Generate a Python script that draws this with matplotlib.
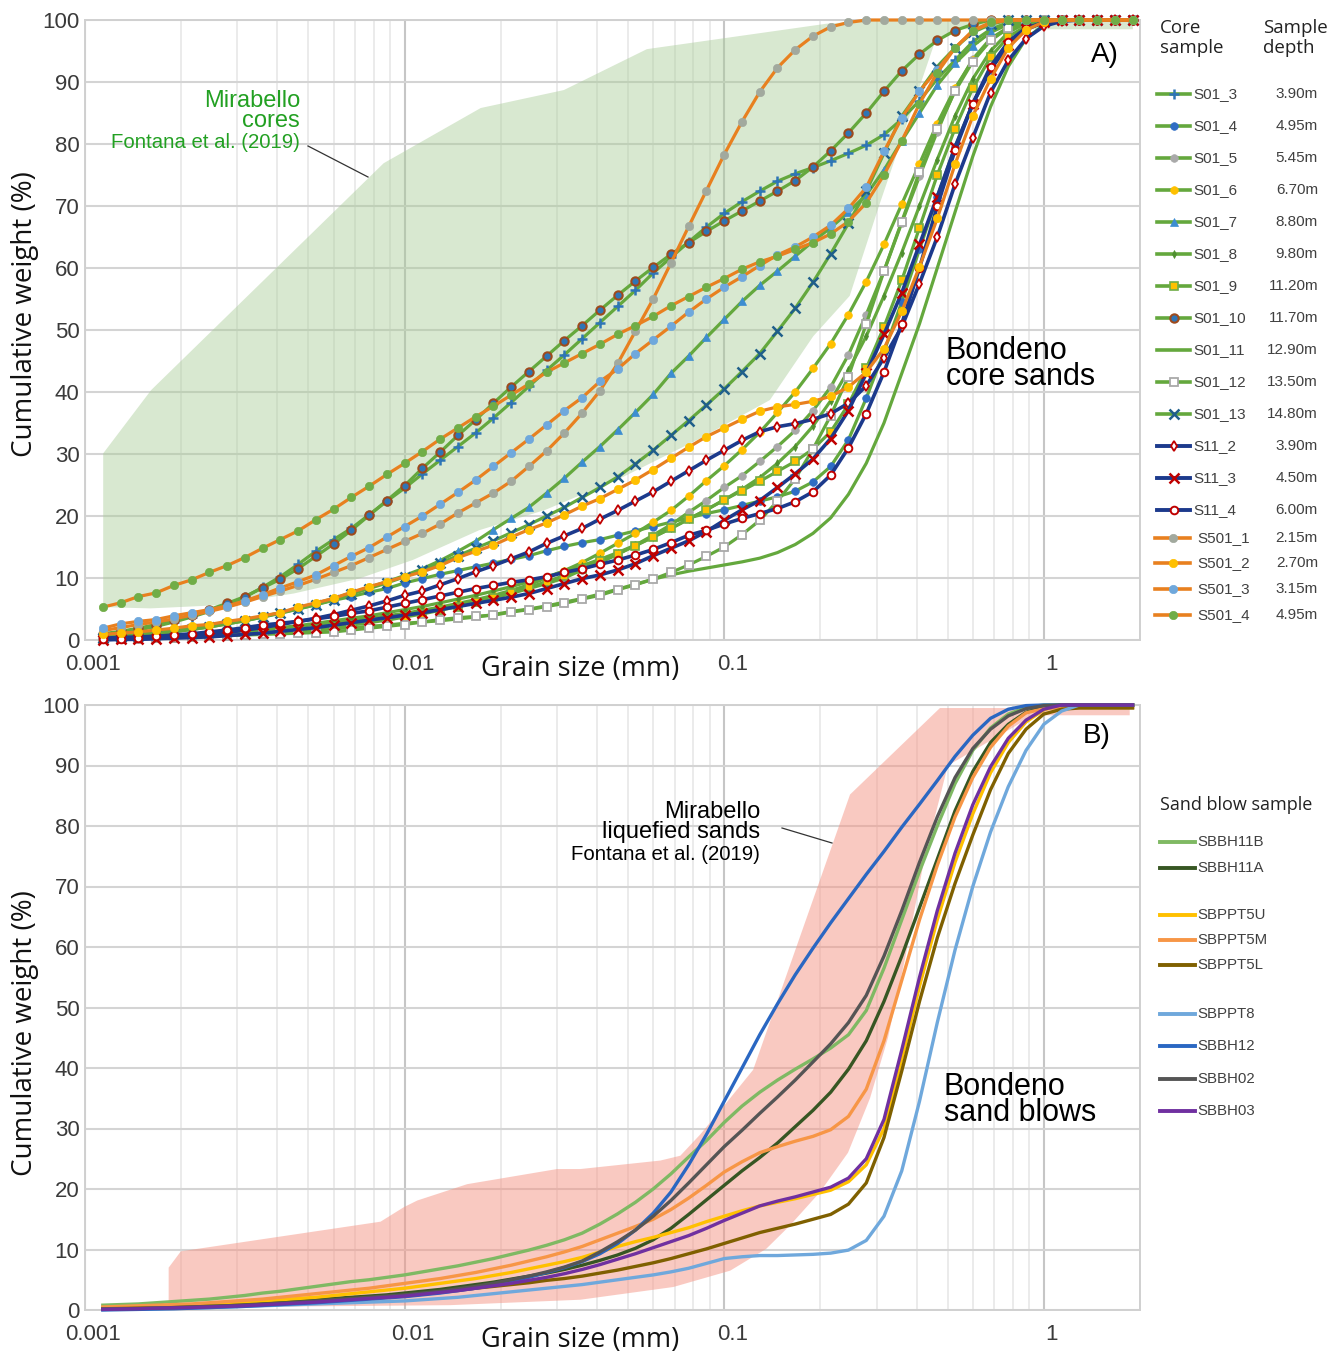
import matplotlib
matplotlib.use("Agg")
import matplotlib.pyplot as plt
from matplotlib.lines import Line2D
from matplotlib.ticker import LogLocator, NullFormatter
import matplotlib.transforms as mtrans

plt.rcParams['font.family'] = ['Liberation Sans', 'DejaVu Sans']

W, H = 1341, 1354

# grain size classes (mm), shared by all curves
grain_mm = [
    0.001137, 0.001292, 0.001468, 0.001668, 0.001896, 0.002154, 0.002448, 0.002783, 0.003162,
    0.003594, 0.004084, 0.004642, 0.005275, 0.005995, 0.006813, 0.007743, 0.008799, 0.01,
    0.01137, 0.01292, 0.01468, 0.01668, 0.01896, 0.02154, 0.02448, 0.02783, 0.03162,
    0.03594, 0.04084, 0.04642, 0.05275, 0.05995, 0.06813, 0.07743, 0.08799, 0.1,
    0.1137, 0.1292, 0.1468, 0.1668, 0.1896, 0.2154, 0.2448, 0.2783, 0.3162,
    0.3594, 0.4084, 0.4642, 0.5275, 0.5995, 0.6813, 0.7743, 0.8799, 1.0,
    1.137, 1.292, 1.468, 1.668, 1.896]

# ---- A) Bondeno core sands, cumulative weight (%)
s01_3 = [0.8, 1.2, 1.6, 2.2, 2.9, 3.7, 4.6, 5.7, 6.9, 8.5,
         10.2, 12.2, 14.3, 16.2, 18.0, 20.2, 22.4, 24.5, 26.8, 29.0,
         31.2, 33.4, 35.8, 38.3, 40.9, 43.5, 46.0, 48.6, 51.2, 53.8,
         56.4, 59.2, 61.7, 64.2, 66.6, 68.8, 70.7, 72.4, 74.0, 75.2,
         76.2, 77.3, 78.5, 79.8, 81.5, 84.0, 87.0, 90.5, 93.5, 96.5,
         98.5, 99.6, 100, 100, 100, 100, 100, 100, 100]
s01_4 = [0.5, 0.8, 1.0, 1.3, 1.6, 2.0, 2.3, 2.7, 3.2, 3.8,
         4.4, 5.0, 5.7, 6.4, 7.0, 7.7, 8.3, 9.2, 9.9, 10.6,
         11.2, 11.8, 12.4, 13.0, 13.6, 14.4, 15.1, 15.7, 16.2, 16.9,
         17.6, 18.3, 19.0, 19.7, 20.4, 21.0, 21.7, 22.4, 23.1, 24.0,
         25.5, 28.0, 32.3, 39.0, 46.5, 54.5, 63.0, 71.5, 79.5, 86.5,
         92.0, 96.0, 98.5, 99.6, 100, 100, 100, 100, 100]
s01_5 = [0.2, 0.3, 0.4, 0.5, 0.5, 0.6, 0.7, 0.8, 1.0, 1.1,
         1.3, 1.6, 1.9, 2.4, 2.9, 3.2, 3.7, 4.1, 4.5, 4.9,
         5.5, 6.2, 6.8, 7.5, 8.3, 9.1, 10.0, 11.3, 12.5, 13.8,
         15.3, 16.9, 18.6, 20.6, 22.5, 24.6, 26.5, 28.8, 31.2, 33.8,
         37.0, 40.8, 46.0, 52.5, 59.5, 67.3, 74.8, 82.0, 88.7, 93.7,
         97.0, 98.8, 99.6, 100, 100, 100, 100, 100, 100]
s01_6 = [0.3, 0.4, 0.5, 0.6, 0.7, 0.8, 1.0, 1.2, 1.4, 1.6,
         1.9, 2.2, 2.5, 2.8, 3.1, 3.5, 3.9, 4.3, 4.8, 5.3,
         5.9, 6.5, 7.2, 8.0, 8.9, 10.0, 11.2, 12.5, 14.0, 15.6,
         17.2, 19.0, 20.9, 23.2, 25.7, 28.1, 30.7, 33.5, 36.7, 40.0,
         43.8, 47.8, 52.5, 57.8, 63.8, 70.3, 76.8, 83.3, 89.0, 93.5,
         96.8, 98.8, 99.7, 100, 100, 100, 100, 100, 100]
s01_7 = [0.5, 0.7, 0.9, 1.1, 1.4, 1.7, 2.1, 2.6, 3.1, 3.7,
         4.4, 5.1, 5.9, 6.7, 7.6, 8.5, 9.4, 10.4, 11.5, 12.8,
         14.3, 15.9, 17.8, 19.6, 21.4, 23.7, 26.1, 28.7, 31.2, 33.9,
         36.7, 39.6, 43.0, 45.8, 48.8, 51.7, 54.6, 57.2, 59.5, 61.9,
         64.3, 66.5, 69.0, 71.8, 75.8, 80.5, 85.0, 89.5, 93.0, 95.8,
         98.0, 99.3, 100, 100, 100, 100, 100, 100, 100]
s01_8 = [0.3, 0.4, 0.5, 0.6, 0.7, 0.8, 1.0, 1.2, 1.4, 1.7,
         2.0, 2.3, 2.7, 3.1, 3.5, 3.9, 4.4, 4.9, 5.4, 6.0,
         6.6, 7.2, 7.9, 8.6, 9.4, 10.2, 11.1, 12.0, 13.0, 14.1,
         15.3, 16.6, 18.0, 19.5, 21.0, 22.6, 24.3, 26.2, 28.5, 31.2,
         34.5, 38.6, 43.5, 49.0, 55.5, 62.5, 70.0, 77.5, 84.5, 90.5,
         95.0, 98.0, 99.5, 100, 100, 100, 100, 100, 100]
s01_9 = [0.2, 0.2, 0.3, 0.3, 0.4, 0.5, 0.6, 0.8, 0.9, 1.1,
         1.3, 1.5, 1.8, 2.1, 2.4, 2.8, 3.2, 3.7, 4.2, 4.8,
         5.4, 6.1, 6.8, 7.6, 8.5, 9.4, 10.4, 11.5, 12.7, 13.9,
         15.2, 16.6, 18.0, 19.5, 21.0, 22.6, 24.1, 25.6, 27.2, 28.8,
         30.8, 33.6, 38.0, 43.8, 50.5, 58.0, 66.5, 75.0, 82.5, 89.0,
         94.0, 97.3, 99.0, 99.8, 100, 100, 100, 100, 100]
s01_10 = [1.0, 1.4, 1.9, 2.5, 3.2, 4.0, 4.9, 5.9, 7.0, 8.4,
          9.8, 11.5, 13.5, 15.5, 17.7, 20.1, 22.5, 24.9, 27.7, 30.3,
          33.0, 35.5, 38.2, 40.8, 43.3, 45.8, 48.3, 50.7, 53.2, 55.6,
          57.9, 60.1, 62.2, 64.1, 65.9, 67.6, 69.2, 70.8, 72.4, 74.1,
          76.3, 78.9, 81.8, 85.0, 88.5, 91.8, 94.5, 96.7, 98.3, 99.3,
          100, 100, 100, 100, 100, 100, 100, 100, 100]
s01_11 = [0.2, 0.3, 0.4, 0.5, 0.6, 0.7, 0.8, 0.9, 1.0, 1.2,
          1.3, 1.5, 1.6, 1.8, 2.0, 2.2, 2.4, 2.7, 2.9, 3.1,
          3.4, 3.7, 4.1, 4.6, 5.0, 5.5, 6.1, 6.7, 7.4, 8.2,
          9.0, 9.8, 10.5, 11.1, 11.6, 12.1, 12.6, 13.2, 14.1, 15.4,
          17.2, 19.7, 23.5, 28.5, 35.0, 43.0, 51.0, 60.0, 69.0, 78.0,
          86.0, 92.5, 97.0, 99.2, 100, 100, 100, 100, 100]
s01_12 = [0.1, 0.2, 0.2, 0.3, 0.4, 0.5, 0.6, 0.7, 0.8, 0.9,
          1.0, 1.1, 1.2, 1.3, 1.6, 1.9, 2.2, 2.5, 2.9, 3.3,
          3.6, 3.8, 4.0, 4.5, 4.9, 5.4, 5.9, 6.6, 7.2, 8.1,
          8.9, 9.8, 10.9, 12.1, 13.5, 15.0, 17.0, 19.3, 22.4, 26.0,
          30.8, 36.2, 42.5, 51.0, 59.5, 67.5, 75.5, 82.5, 88.5, 93.3,
          96.7, 98.7, 99.6, 100, 100, 100, 100, 100, 100]
s01_13 = [0.3, 0.5, 0.7, 1.0, 1.3, 1.7, 2.1, 2.6, 3.1, 3.7,
          4.3, 5.0, 5.7, 6.5, 7.4, 8.3, 9.2, 10.2, 11.3, 12.4,
          13.6, 14.8, 16.0, 17.3, 18.6, 20.0, 21.4, 23.0, 24.6, 26.3,
          28.4, 30.6, 33.0, 35.4, 37.9, 40.5, 43.3, 46.2, 49.8, 53.5,
          57.7, 62.3, 67.2, 72.4, 78.5, 84.5, 88.5, 92.5, 95.5, 98.0,
          99.3, 100, 100, 100, 100, 100, 100, 100, 100]
s11_2 = [0.3, 0.4, 0.5, 0.6, 0.7, 0.8, 1.0, 1.2, 1.6, 2.0,
         2.5, 3.0, 3.5, 4.1, 4.8, 5.5, 6.3, 7.2, 7.9, 8.9,
         9.9, 11.0, 12.0, 13.1, 14.2, 15.6, 16.8, 18.0, 19.5, 20.9,
         22.4, 23.9, 25.6, 27.3, 29.0, 30.6, 32.2, 33.6, 34.4, 34.9,
         35.6, 36.5, 38.2, 41.0, 45.5, 50.5, 57.5, 65.0, 73.5, 81.0,
         88.3, 93.5, 97.0, 99.0, 99.8, 100, 100, 100, 100]
s11_3 = [0.0, 0.1, 0.1, 0.2, 0.3, 0.4, 0.5, 0.7, 0.9, 1.1,
         1.4, 1.7, 2.0, 2.4, 2.8, 3.2, 3.6, 4.0, 4.4, 4.9,
         5.4, 5.9, 6.4, 6.9, 7.5, 8.3, 9.1, 9.9, 10.5, 11.3,
         12.3, 13.6, 14.8, 16.0, 17.5, 19.3, 21.0, 22.5, 24.6, 26.8,
         29.2, 32.5, 37.0, 43.0, 49.3, 56.0, 63.8, 71.5, 79.5, 86.5,
         92.0, 96.0, 98.5, 99.6, 100, 100, 100, 100, 100]
s11_4 = [0.1, 0.2, 0.4, 0.6, 0.8, 1.0, 1.3, 1.6, 2.0, 2.4,
         2.7, 3.0, 3.4, 3.8, 4.3, 4.7, 5.3, 5.9, 6.5, 7.1,
         7.7, 8.3, 8.8, 9.3, 9.7, 10.2, 10.9, 11.5, 12.2, 12.9,
         13.7, 14.6, 15.7, 16.9, 17.7, 18.7, 19.6, 20.4, 21.2, 22.3,
         23.9, 26.6, 31.0, 36.5, 43.2, 51.0, 60.0, 70.0, 79.0, 86.5,
         92.5, 96.5, 98.7, 99.6, 100, 100, 100, 100, 100]
s501_1 = [1.5, 2.0, 2.5, 2.9, 3.4, 4.0, 4.6, 5.3, 6.1, 7.0,
          7.9, 8.8, 9.8, 10.9, 12.0, 13.3, 14.6, 15.9, 17.2, 18.7,
          20.5, 22.1, 23.7, 25.6, 28.0, 30.5, 33.4, 36.6, 40.2, 44.6,
          49.8, 55.0, 60.8, 66.7, 72.5, 78.3, 83.6, 88.4, 92.3, 95.2,
          97.4, 98.9, 99.6, 100, 100, 100, 100, 100, 100, 100,
          100, 100, 100, 100, 100, 100, 100, 100, 100]
s501_2 = [0.9, 1.1, 1.3, 1.6, 1.9, 2.3, 2.5, 3.0, 3.4, 3.9,
          4.4, 5.3, 6.0, 6.7, 7.7, 8.6, 9.4, 10.2, 11.0, 12.0,
          13.3, 14.3, 15.3, 16.6, 17.8, 18.9, 20.2, 21.6, 22.8, 24.3,
          25.8, 27.5, 29.3, 31.1, 32.8, 34.2, 35.6, 36.9, 37.6, 38.0,
          38.5, 39.3, 40.8, 43.2, 47.0, 53.0, 60.2, 68.0, 76.7, 84.5,
          90.5, 95.5, 98.4, 99.7, 100, 100, 100, 100, 100]
s501_3 = [1.9, 2.6, 3.0, 3.3, 3.9, 4.4, 4.9, 5.5, 6.3, 7.3,
          8.4, 9.4, 10.5, 12.0, 13.5, 14.9, 16.6, 18.3, 20.0, 21.9,
          23.8, 25.8, 28.0, 30.2, 32.4, 34.7, 37.0, 39.1, 41.7, 43.7,
          46.2, 48.4, 50.6, 52.9, 55.0, 56.9, 58.6, 60.4, 62.1, 63.4,
          65.0, 66.9, 69.6, 73.0, 78.8, 84.2, 88.5, 92.0, 95.5, 98.2,
          99.5, 100, 100, 100, 100, 100, 100, 100, 100]
s501_4 = [5.3, 6.0, 7.0, 7.6, 8.8, 9.7, 10.9, 12.0, 13.3, 14.8,
          16.2, 17.6, 19.4, 21.1, 23.0, 24.8, 26.7, 28.5, 30.4, 32.4,
          34.2, 36.0, 37.7, 39.5, 41.3, 43.2, 44.7, 46.2, 47.7, 49.3,
          50.7, 52.2, 53.9, 55.4, 56.9, 58.3, 59.8, 61.0, 61.9, 63.0,
          64.1, 65.5, 67.5, 70.5, 75.0, 80.5, 86.5, 91.5, 95.5, 98.3,
          99.6, 100, 100, 100, 100, 100, 100, 100, 100]

core_names = ['S01_3', 'S01_4', 'S01_5', 'S01_6', 'S01_7', 'S01_8', 'S01_9', 'S01_10',
              'S01_11', 'S01_12', 'S01_13', 'S11_2', 'S11_3', 'S11_4',
              'S501_1', 'S501_2', 'S501_3', 'S501_4']
core_depths = ['3.90m', '4.95m', '5.45m', '6.70m', '8.80m', '9.80m', '11.20m', '11.70m',
               '12.90m', '13.50m', '14.80m', '3.90m', '4.50m', '6.00m',
               '2.15m', '2.70m', '3.15m', '4.95m']
core_values = [s01_3, s01_4, s01_5, s01_6, s01_7, s01_8, s01_9, s01_10,
               s01_11, s01_12, s01_13, s11_2, s11_3, s11_4,
               s501_1, s501_2, s501_3, s501_4]

# Mirabello cores envelope (Fontana et al. 2019)
mir_core_up_mm = [0.00114, 0.00161, 0.0086, 0.0173, 0.0315, 0.0573, 0.209, 0.30, 1.9]
mir_core_up_pct = [30.1, 40.3, 76.9, 85.8, 88.7, 95.3, 99.4, 100, 100]
mir_core_lo_mm = [0.00114, 0.0016, 0.0026, 0.0045, 0.0072, 0.0106, 0.0171, 0.0276,
                  0.047, 0.084, 0.139, 0.19, 0.247, 0.305, 0.46, 0.54, 1.9]
mir_core_lo_pct = [5.3, 5.1, 5.6, 7.5, 9.9, 12.9, 17.7, 21.0,
                   26.0, 32.5, 38.7, 49.0, 55.5, 70.0, 97.0, 98.5, 98.5]

# ---- B) Bondeno sand blows, cumulative weight (%)
sbbh11b = [0.8, 0.9, 1.0, 1.2, 1.4, 1.6, 1.8, 2.1, 2.4, 2.8,
           3.1, 3.5, 3.9, 4.3, 4.7, 5.0, 5.4, 5.8, 6.3, 6.8,
           7.3, 7.9, 8.5, 9.2, 9.9, 10.7, 11.6, 12.7, 14.2, 15.9,
           17.8, 20.0, 22.5, 25.3, 28.0, 31.0, 33.7, 36.0, 38.0, 39.8,
           41.5, 43.3, 45.5, 49.5, 56.5, 64.5, 72.5, 80.0, 87.0, 92.5,
           96.2, 98.5, 99.6, 100, 100, 100, 100, 100, 100]
sbbh11a = [0.2, 0.3, 0.35, 0.4, 0.5, 0.6, 0.7, 0.8, 0.95, 1.1,
           1.3, 1.5, 1.7, 1.9, 2.1, 2.3, 2.5, 2.8, 3.1, 3.4,
           3.8, 4.2, 4.6, 5.1, 5.6, 6.1, 6.7, 7.4, 8.2, 9.1,
           10.2, 11.6, 13.5, 15.8, 18.2, 20.6, 23.0, 25.2, 27.6, 30.3,
           33.0, 36.0, 39.8, 44.5, 51.0, 58.5, 66.5, 74.5, 82.5, 89.0,
           93.8, 96.8, 98.8, 99.7, 100, 100, 100, 100, 100]
sbppt5u = [0.3, 0.4, 0.5, 0.6, 0.7, 0.8, 0.9, 1.1, 1.3, 1.5,
           1.7, 1.9, 2.1, 2.4, 2.7, 3.0, 3.3, 3.6, 4.0, 4.4,
           4.8, 5.2, 5.7, 6.2, 6.8, 7.4, 8.0, 8.7, 9.6, 10.5,
           11.3, 12.0, 12.8, 13.6, 14.6, 15.5, 16.4, 17.2, 17.8, 18.4,
           19.1, 19.8, 21.2, 24.0, 30.0, 41.5, 53.5, 64.5, 74.0, 82.0,
           88.8, 93.8, 97.2, 99.2, 100, 100, 100, 100, 100]
sbppt5m = [0.5, 0.6, 0.7, 0.8, 0.9, 1.0, 1.2, 1.4, 1.6, 1.8,
           2.1, 2.4, 2.7, 3.0, 3.3, 3.6, 4.0, 4.4, 4.8, 5.2,
           5.7, 6.2, 6.8, 7.4, 8.1, 8.8, 9.6, 10.5, 11.6, 12.7,
           13.8, 15.0, 16.6, 18.5, 20.6, 22.8, 24.5, 26.0, 27.0, 27.9,
           28.7, 29.8, 32.0, 36.5, 44.5, 54.5, 64.5, 73.5, 81.5, 88.0,
           93.0, 96.5, 98.7, 99.4, 99.6, 99.6, 99.6, 99.6, 99.6]
sbppt5l = [0.2, 0.25, 0.3, 0.35, 0.4, 0.5, 0.6, 0.7, 0.8, 0.9,
           1.0, 1.2, 1.4, 1.6, 1.8, 2.0, 2.2, 2.4, 2.7, 3.0,
           3.3, 3.6, 3.9, 4.2, 4.5, 4.9, 5.2, 5.6, 6.1, 6.6,
           7.2, 7.8, 8.5, 9.3, 10.1, 11.0, 11.9, 12.8, 13.5, 14.2,
           15.0, 15.8, 17.5, 21.0, 28.5, 39.5, 51.0, 61.5, 70.5, 78.5,
           86.0, 92.0, 96.0, 98.5, 99.3, 99.5, 99.5, 99.5, 99.5]
sbppt8 = [0.1, 0.15, 0.2, 0.25, 0.3, 0.35, 0.4, 0.5, 0.6, 0.7,
          0.8, 0.9, 1.0, 1.1, 1.2, 1.3, 1.4, 1.5, 1.7, 1.9,
          2.1, 2.4, 2.7, 3.0, 3.3, 3.6, 3.9, 4.2, 4.6, 5.0,
          5.4, 5.8, 6.3, 6.9, 7.7, 8.5, 8.8, 9.0, 9.0, 9.1,
          9.2, 9.4, 9.9, 11.5, 15.5, 23.0, 34.5, 47.5, 59.5, 70.0,
          79.0, 86.5, 92.5, 96.8, 99.0, 100, 100, 100, 100]
sbbh12 = [0.0, 0.05, 0.1, 0.15, 0.2, 0.3, 0.4, 0.5, 0.6, 0.75,
          0.9, 1.05, 1.2, 1.4, 1.6, 1.8, 2.0, 2.2, 2.5, 2.8,
          3.2, 3.6, 4.1, 4.7, 5.4, 6.2, 7.0, 8.0, 9.3, 11.0,
          13.2, 16.0, 19.5, 24.0, 29.0, 34.5, 40.0, 45.5, 50.6, 55.4,
          59.8, 64.0, 68.0, 72.0, 75.8, 79.8, 83.6, 87.5, 91.5, 95.0,
          97.8, 99.3, 99.9, 100, 100, 100, 100, 100, 100]
sbbh02 = [0.15, 0.2, 0.25, 0.3, 0.4, 0.5, 0.6, 0.7, 0.85, 1.0,
          1.15, 1.3, 1.5, 1.7, 1.9, 2.1, 2.3, 2.5, 2.8, 3.1,
          3.5, 3.9, 4.4, 5.0, 5.6, 6.3, 7.1, 8.1, 9.6, 11.3,
          13.2, 15.5, 18.1, 21.0, 24.0, 27.0, 29.7, 32.5, 35.2, 38.0,
          41.0, 44.0, 47.5, 52.0, 58.5, 66.0, 74.0, 81.5, 88.0, 92.8,
          96.0, 98.2, 99.4, 99.9, 100, 100, 100, 100, 100]
sbbh03 = [0.1, 0.15, 0.2, 0.3, 0.35, 0.4, 0.5, 0.6, 0.7, 0.85,
          1.0, 1.15, 1.3, 1.5, 1.7, 1.9, 2.1, 2.3, 2.6, 2.9,
          3.2, 3.6, 4.0, 4.4, 4.9, 5.4, 6.0, 6.7, 7.5, 8.4,
          9.3, 10.3, 11.3, 12.3, 13.5, 14.8, 16.0, 17.2, 18.0, 18.7,
          19.5, 20.3, 21.8, 25.0, 31.5, 43.0, 55.0, 66.0, 75.5, 83.5,
          89.8, 94.5, 97.5, 99.3, 100, 100, 100, 100, 100]

blow_names = ['SBBH11B', 'SBBH11A', 'SBPPT5U', 'SBPPT5M', 'SBPPT5L',
              'SBPPT8', 'SBBH12', 'SBBH02', 'SBBH03']
blow_values = [sbbh11b, sbbh11a, sbppt5u, sbppt5m, sbppt5l, sbppt8, sbbh12, sbbh02, sbbh03]

# Mirabello liquefied sands envelope (Fontana et al. 2019)
mir_liq_up_mm = [0.001827, 0.001995, 0.00841, 0.00995, 0.01096, 0.0157, 0.030, 0.0355,
                 0.0631, 0.0729, 0.0841, 0.0972, 0.1232, 0.2476, 0.4732, 1.857]
mir_liq_up_pct = [7.0, 9.7, 14.6, 17.0, 18.1, 20.8, 23.3, 23.3,
                  24.7, 25.5, 29.0, 33.0, 39.7, 85.2, 99.5, 99.5]
mir_liq_lo_mm = [0.001827, 0.0139, 0.0355, 0.0693, 0.1044, 0.1353, 0.1608, 0.1995,
                 0.244, 0.2859, 0.3255, 0.3678, 0.4247, 0.501, 0.9306, 1.857]
mir_liq_lo_pct = [0.4, 0.8, 1.7, 3.8, 6.5, 10.1, 14.0, 19.5,
                  26.0, 35.0, 45.0, 58.0, 75.0, 90.0, 98.3, 98.3]

# ---- styles
GREEN, NAVY, ORANGE = '#64a83d', '#1c3a8c', '#e8801f'
RED = '#c00000'
core_styles = [
    dict(color=GREEN, marker='+', mfc='#2e75b6', mec='#2e75b6', ms=7, mew=1.8),
    dict(color=GREEN, marker='o', mfc='#2f6dc4', mec='#2f6dc4', ms=5.5, mew=0.5),
    dict(color=GREEN, marker='o', mfc='#a9a9a9', mec='#a9a9a9', ms=5.5, mew=0.5),
    dict(color=GREEN, marker='o', mfc='#ffc000', mec='#ffc000', ms=5.5, mew=0.5),
    dict(color=GREEN, marker='^', mfc='#3c8dd1', mec='#3c8dd1', ms=6, mew=0.5),
    dict(color=GREEN, marker='d', mfc='#4f8f2f', mec='#4f8f2f', ms=4, mew=0.5),
    dict(color=GREEN, marker='s', mfc='#ffc000', mec='#70ad47', ms=5.5, mew=1.2),
    dict(color=GREEN, marker='o', mfc='#2e75b6', mec='#9e4a1c', ms=6, mew=1.5),
    dict(color=GREEN, marker=None),
    dict(color=GREEN, marker='s', mfc='white', mec='#a9a9a9', ms=5.5, mew=1.3),
    dict(color=GREEN, marker='x', mfc='#1f5f8b', mec='#1f5f8b', ms=6.5, mew=1.8),
    dict(color=NAVY, marker='d', mfc='white', mec=RED, ms=5.5, mew=1.3),
    dict(color=NAVY, marker='x', mfc=RED, mec=RED, ms=6.5, mew=1.8),
    dict(color=NAVY, marker='o', mfc='white', mec=RED, ms=5.5, mew=1.4),
    dict(color=ORANGE, marker='o', mfc='#a2a99e', mec='#a2a99e', ms=6, mew=0.5),
    dict(color=ORANGE, marker='o', mfc='#ffc000', mec='#ffc000', ms=6, mew=0.5),
    dict(color=ORANGE, marker='o', mfc='#6fa8dc', mec='#6fa8dc', ms=6, mew=0.5),
    dict(color=ORANGE, marker='o', mfc='#70ad47', mec='#70ad47', ms=6, mew=0.5),
]
blow_colors = ['#7fb963', '#375623', '#ffc000', '#f79646', '#7f6000',
               '#6fa8dc', '#2a67c2', '#555555', '#7030a0']


def fx(px):
    return px / W


def fy(py):
    return 1 - py / H


def style_axes(ax):
    ax.set_xscale('log')
    ax.set_xlim(0.001, 2.0)
    ax.set_ylim(0, 100)
    ax.set_yticks(range(0, 101, 10))
    ax.set_xticks([0.001, 0.01, 0.1, 1])
    ax.set_xticklabels(['0.001', '0.01', '0.1', '1'])
    ax.xaxis.set_minor_locator(LogLocator(base=10, subs=range(2, 10)))
    ax.xaxis.set_minor_formatter(NullFormatter())
    ax.set_axisbelow(True)
    ax.grid(which='major', axis='x', color='#c6c6c6', lw=1.5)
    ax.grid(which='minor', axis='x', color='#e6e6e6', lw=1.1)
    ax.grid(which='major', axis='y', color='#d4d4d4', lw=1.5)
    ax.tick_params(which='both', length=0, labelsize=16, labelcolor='#3a3a3a')
    ax.tick_params(axis='x', pad=10)
    ax.tick_params(axis='y', pad=4)
    for s in ax.spines.values():
        s.set_color('#d0d0d0')
        s.set_linewidth(1.4)
    off = mtrans.ScaledTranslation(8 / 100, 0, ax.figure.dpi_scale_trans)
    for lab in ax.get_xticklabels():
        lab.set_transform(lab.get_transform() + off)


fig = plt.figure(figsize=(W / 100, H / 100), dpi=100)
ax1 = fig.add_axes([fx(85), fy(640), (1140 - 85) / W, 620 / H])
ax2 = fig.add_axes([fx(85), fy(1310), (1140 - 85) / W, 605 / H])
style_axes(ax1)
style_axes(ax2)

# panel A
ax1.fill(mir_core_up_mm + mir_core_lo_mm[::-1], mir_core_up_pct + mir_core_lo_pct[::-1],
         color='#a9cc98', alpha=0.45, lw=0, zorder=1)
for vals, st in zip(core_values, core_styles):
    lw = 2.6 if st['color'] == NAVY else 2.3
    ax1.plot(grain_mm, vals, lw=lw, clip_on=False, zorder=3, **st)

# panel B
ax2.fill(mir_liq_up_mm + mir_liq_lo_mm[::-1], mir_liq_up_pct + mir_liq_lo_pct[::-1],
         color='#f59484', alpha=0.5, lw=0, zorder=1)
for vals, c in zip(blow_values, blow_colors):
    ax2.plot(grain_mm, vals, color=c, lw=2.4, clip_on=False, zorder=3)

# axis titles
for yc, xc in [(314, 669), (1033, 1340)]:
    fig.text(fx(25), fy(yc), 'Cumulative weight (%)', rotation=90, ha='center', va='center',
             fontsize=20, family=['Open Sans', 'DejaVu Sans'], color='#111111')
    fig.text(fx(580), fy(xc), 'Grain size (mm)', ha='center', va='center',
             fontsize=19.5, family=['Open Sans', 'DejaVu Sans'], color='#111111')

# panel A annotations
mir_green = '#22a022'
fig.text(fx(300), fy(101), 'Mirabello', ha='right', va='center', fontsize=17, color=mir_green)
fig.text(fx(300), fy(121), 'cores', ha='right', va='center', fontsize=17, color=mir_green)
fig.text(fx(300), fy(142), 'Fontana et al. (2019)', ha='right', va='center', fontsize=14.7,
         color=mir_green)
fig.add_artist(Line2D([fx(308), fx(368)], [fy(146), fy(177)], color='#333333', lw=0.9))
fig.text(fx(946), fy(364), 'Bondeno\ncore sands', ha='left', va='center', fontsize=22,
         linespacing=0.8, color='black')
fig.text(fx(1105), fy(55), 'A)', ha='center', va='center', fontsize=20, color='black')

# panel B annotations
fig.text(fx(760), fy(812), 'Mirabello', ha='right', va='center', fontsize=17, color='black')
fig.text(fx(760), fy(832), 'liquefied sands', ha='right', va='center', fontsize=17, color='black')
fig.text(fx(760), fy(854), 'Fontana et al. (2019)', ha='right', va='center', fontsize=14.7,
         color='black')
fig.add_artist(Line2D([fx(782), fx(832)], [fy(828), fy(843)], color='#333333', lw=0.9))
fig.text(fx(944), fy(1100), 'Bondeno\nsand blows', ha='left', va='center', fontsize=22,
         linespacing=0.8, color='black')
fig.text(fx(1097), fy(736), 'B)', ha='center', va='center', fontsize=20, color='black')

# legend A (drawn by hand to keep the two-column layout)
hdr_font = ['Open Sans', 'DejaVu Sans']
fig.text(fx(1160), fy(38), 'Core\nsample', ha='left', va='center', fontsize=13.5,
         family=hdr_font, linespacing=1.1, color='#222222')
fig.text(fx(1263), fy(38), 'Sample\ndepth', ha='left', va='center', fontsize=13.5,
         family=hdr_font, linespacing=1.1, color='#222222')
leg_rows = [94, 126, 158, 190, 222, 254, 286, 318, 350, 382, 414, 446, 478, 510,
            538, 563, 589, 615]
for name, depth, st, ry in zip(core_names, core_depths, core_styles, leg_rows):
    x0, x1 = (1155, 1190) if name.startswith('S501') else (1157, 1190)
    lw = 2.8 if st['color'] == NAVY else 2.6
    fig.add_artist(Line2D([fx(x0), fx(x1)], [fy(ry), fy(ry)], color=st['color'], lw=lw))
    if st['marker']:
        fig.add_artist(Line2D([fx((x0 + x1) / 2)], [fy(ry)], marker=st['marker'], mfc=st['mfc'],
                              mec=st['mec'], ms=st['ms'], mew=st['mew'], lw=0))
    tx = 1197 if name.startswith('S501') else 1193
    fig.text(fx(tx), fy(ry), name, ha='left', va='center', fontsize=11, color='#404040')
    fig.text(fx(1318), fy(ry), depth, ha='right', va='center', fontsize=11, color='#404040')

# legend B
fig.text(fx(1160), fy(805), 'Sand blow sample', ha='left', va='center', fontsize=13,
         family=hdr_font, color='#222222')
blow_rows = [842, 868, 915, 940, 965, 1014, 1046, 1079, 1111]
for name, c, ry in zip(blow_names, blow_colors, blow_rows):
    fig.add_artist(Line2D([fx(1160), fx(1195)], [fy(ry), fy(ry)], color=c, lw=2.8))
    fig.text(fx(1197), fy(ry), name, ha='left', va='center', fontsize=10.8, color='#404040')

fig.savefig('out.png', dpi=100)
